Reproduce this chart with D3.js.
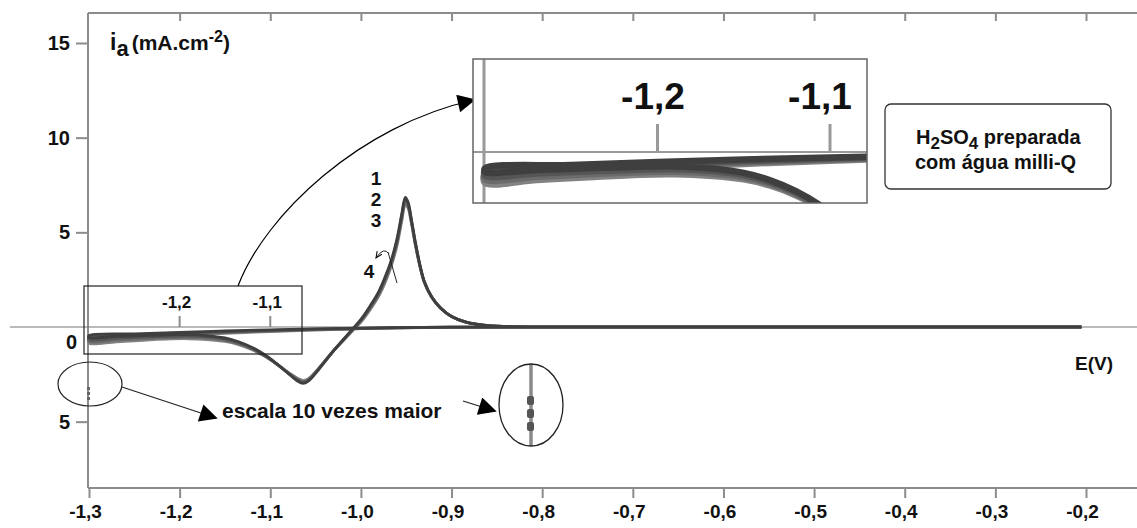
<!DOCTYPE html>
<html>
<head>
<meta charset="utf-8">
<script src="https://cdn.jsdelivr.net/npm/d3@7"></script>
<style>
  body { margin: 0; background: #fff; }
  svg { display: block; }
  text { font-family: "Liberation Sans", Arial, sans-serif; fill: #111; }
</style>
</head>
<body>
<svg id="chart" width="1137" height="528"></svg>
<script>
// Potential ticks (V) and their labels
const xTicks = [-1.3, -1.2, -1.1, -1.0, -0.9, -0.8, -0.7, -0.6, -0.5, -0.4, -0.3, -0.2];
const xTickLabels = ["-1,3", "-1,2", "-1,1", "-1,0", "-0,9", "-0,8", "-0,7", "-0,6", "-0,5", "-0,4", "-0,3", "-0,2"];
// Current density ticks (the negative side is drawn at 10x scale)
const yTicks = [15, 10, 5, -5];
const yTickLabels = ["15", "10", "5", "5"];
// Ticks shown in the magnified window
const zoomTicks = [-1.2, -1.1];
const zoomTickLabels = ["-1,2", "-1,1"];
const cycleNames = ["1", "2", "3", "4"];

// Voltammograms, [E (V), i (mA.cm-2)] : cathodic sweep -0.2 -> -1.3, then back to -0.2
const cycle1 = [
  [-0.205, 0], [-0.5, 0], [-0.8, 0], [-0.9, -0.01], [-0.96, -0.03], [-1.0, -0.06], [-1.05, -0.1],
  [-1.1, -0.15], [-1.15, -0.21], [-1.2, -0.28], [-1.25, -0.36], [-1.3, -0.45],
  [-1.3, -0.55], [-1.27, -0.5], [-1.24, -0.45], [-1.21, -0.41], [-1.19, -0.4], [-1.17, -0.45],
  [-1.15, -0.58], [-1.135, -0.78], [-1.12, -1.08], [-1.105, -1.5], [-1.09, -2.05], [-1.078, -2.55],
  [-1.07, -2.85], [-1.064, -2.98], [-1.058, -2.86], [-1.05, -2.45], [-1.04, -1.85], [-1.03, -1.25],
  [-1.02, -0.7], [-1.01, -0.15], [-1.0, 0.4], [-0.99, 1.1], [-0.98, 1.9], [-0.972, 2.8], [-0.966, 3.6],
  [-0.96, 4.7], [-0.955, 5.95], [-0.951, 6.85], [-0.948, 6.6], [-0.944, 5.6], [-0.94, 4.5],
  [-0.935, 3.3], [-0.93, 2.4], [-0.922, 1.6], [-0.912, 1.0], [-0.9, 0.55], [-0.885, 0.27],
  [-0.865, 0.1], [-0.84, 0.03], [-0.8, 0], [-0.5, 0], [-0.205, 0]
];
const cycle2 = [
  [-0.205, 0], [-0.5, 0], [-0.8, 0], [-0.9, -0.01], [-0.96, -0.04], [-1.0, -0.07], [-1.05, -0.12],
  [-1.1, -0.18], [-1.15, -0.25], [-1.2, -0.33], [-1.25, -0.42], [-1.3, -0.52],
  [-1.3, -0.66], [-1.27, -0.6], [-1.24, -0.54], [-1.21, -0.49], [-1.19, -0.48], [-1.17, -0.52],
  [-1.15, -0.64], [-1.135, -0.83], [-1.12, -1.12], [-1.105, -1.53], [-1.09, -2.06], [-1.078, -2.52],
  [-1.07, -2.8], [-1.064, -2.93], [-1.058, -2.82], [-1.05, -2.42], [-1.04, -1.83], [-1.03, -1.24],
  [-1.02, -0.7], [-1.01, -0.17], [-1.0, 0.36], [-0.99, 1.05], [-0.98, 1.84], [-0.972, 2.72], [-0.966, 3.52],
  [-0.96, 4.6], [-0.955, 5.85], [-0.951, 6.72], [-0.948, 6.5], [-0.944, 5.55], [-0.94, 4.45],
  [-0.935, 3.28], [-0.93, 2.38], [-0.922, 1.6], [-0.912, 1.0], [-0.9, 0.55], [-0.885, 0.27],
  [-0.865, 0.1], [-0.84, 0.03], [-0.8, 0], [-0.5, 0], [-0.205, 0]
];
const cycle3 = [
  [-0.205, 0], [-0.5, 0], [-0.8, 0], [-0.9, -0.01], [-0.96, -0.04], [-1.0, -0.08], [-1.05, -0.14],
  [-1.1, -0.21], [-1.15, -0.29], [-1.2, -0.38], [-1.25, -0.48], [-1.3, -0.58],
  [-1.3, -0.76], [-1.27, -0.69], [-1.24, -0.62], [-1.21, -0.56], [-1.19, -0.55], [-1.17, -0.59],
  [-1.15, -0.7], [-1.135, -0.88], [-1.12, -1.16], [-1.105, -1.56], [-1.09, -2.06], [-1.078, -2.5],
  [-1.07, -2.76], [-1.064, -2.88], [-1.058, -2.78], [-1.05, -2.39], [-1.04, -1.82], [-1.03, -1.24],
  [-1.02, -0.72], [-1.01, -0.2], [-1.0, 0.32], [-0.99, 0.98], [-0.98, 1.76], [-0.972, 2.62], [-0.966, 3.42],
  [-0.96, 4.48], [-0.955, 5.72], [-0.951, 6.6], [-0.948, 6.4], [-0.944, 5.48], [-0.94, 4.4],
  [-0.935, 3.25], [-0.93, 2.36], [-0.922, 1.58], [-0.912, 0.99], [-0.9, 0.55], [-0.885, 0.27],
  [-0.865, 0.1], [-0.84, 0.03], [-0.8, 0], [-0.5, 0], [-0.205, 0]
];
const cycle4 = [
  [-0.205, 0], [-0.5, 0], [-0.8, 0], [-0.9, -0.02], [-0.96, -0.05], [-1.0, -0.09], [-1.05, -0.16],
  [-1.1, -0.24], [-1.15, -0.33], [-1.2, -0.43], [-1.25, -0.53], [-1.3, -0.64],
  [-1.3, -0.86], [-1.27, -0.78], [-1.24, -0.7], [-1.21, -0.63], [-1.19, -0.62], [-1.17, -0.66],
  [-1.15, -0.76], [-1.135, -0.93], [-1.12, -1.2], [-1.105, -1.58], [-1.09, -2.06], [-1.078, -2.46],
  [-1.07, -2.7], [-1.064, -2.82], [-1.058, -2.73], [-1.05, -2.36], [-1.04, -1.8], [-1.03, -1.25],
  [-1.02, -0.75], [-1.01, -0.24], [-1.0, 0.26], [-0.99, 0.9], [-0.98, 1.66], [-0.972, 2.5], [-0.966, 3.3],
  [-0.96, 4.34], [-0.955, 5.58], [-0.951, 6.45], [-0.948, 6.28], [-0.944, 5.4], [-0.94, 4.34],
  [-0.935, 3.22], [-0.93, 2.34], [-0.922, 1.57], [-0.912, 0.98], [-0.9, 0.55], [-0.885, 0.27],
  [-0.865, 0.1], [-0.84, 0.03], [-0.8, 0], [-0.5, 0], [-0.205, 0]
];
const cycles = [cycle1, cycle2, cycle3, cycle4];
const cycleColors = ["#3f3f3f", "#555555", "#6b6b6b", "#828282"];

const svg = d3.select("#chart");
const axisGrey = "#8c8c8c";

// Plot frame
const frame = { left: 88, top: 13, right: 1137, bottom: 488 };

const x = d3.scaleLinear().domain([-1.3, -0.2]).range([89, 1086]);
const y = d3.scaleLinear().domain([0, 15]).range([327, 43]);

// Magnified window scales
const xi = d3.scaleLinear().domain([-1.3, -1.1]).range([485, 830]);
const yi = d3.scaleLinear().domain([0, -1]).range([152, 188]);

// Frame lines
svg.append("line").attr("x1", frame.left).attr("x2", frame.right).attr("y1", frame.top).attr("y2", frame.top)
  .attr("stroke", axisGrey).attr("stroke-width", 2);
svg.append("line").attr("x1", frame.left).attr("x2", frame.right).attr("y1", frame.bottom).attr("y2", frame.bottom)
  .attr("stroke", axisGrey).attr("stroke-width", 2);
svg.append("line").attr("x1", frame.left).attr("x2", frame.left).attr("y1", frame.top).attr("y2", frame.bottom)
  .attr("stroke", axisGrey).attr("stroke-width", 2);

// Bottom axis
const xAxis = svg.append("g").attr("transform", `translate(0,${frame.bottom})`)
  .call(d3.axisBottom(x).tickValues(xTicks).tickFormat((d, i) => xTickLabels[i]).tickSize(10).tickPadding(7));
xAxis.select(".domain").remove();
xAxis.selectAll(".tick line").attr("stroke", axisGrey).attr("stroke-width", 2);
xAxis.selectAll(".tick text").attr("font-size", 19).attr("font-weight", "bold").attr("fill", "#111")
  .attr("dx", -4).attr("font-family", "Liberation Sans, Arial, sans-serif");

// Top axis (inward ticks, no labels)
const topAxis = svg.append("g").attr("transform", `translate(0,${frame.top})`)
  .call(d3.axisBottom(x).tickValues(xTicks.slice(1)).tickFormat("").tickSize(8));
topAxis.select(".domain").remove();
topAxis.selectAll(".tick line").attr("stroke", axisGrey).attr("stroke-width", 2);

// Left axis
const yAxis = svg.append("g").attr("transform", `translate(${frame.left},0)`)
  .call(d3.axisLeft(y).tickValues(yTicks).tickFormat((d, i) => yTickLabels[i]).tickSize(12).tickPadding(6));
yAxis.select(".domain").remove();
yAxis.selectAll(".tick line").attr("stroke", axisGrey).attr("stroke-width", 2);
yAxis.selectAll(".tick text").attr("font-size", 20).attr("font-weight", "bold").attr("fill", "#111")
  .attr("font-family", "Liberation Sans, Arial, sans-serif");
// zero label sits just under the zero line
svg.append("text").attr("x", 77).attr("y", y(0) + 22).attr("text-anchor", "end")
  .attr("font-size", 20).attr("font-weight", "bold").text("0");

// Zero line across the whole width
svg.append("line").attr("x1", 10).attr("x2", frame.right).attr("y1", y(0)).attr("y2", y(0))
  .attr("stroke", "#777").attr("stroke-width", 1.2);

// Y axis title
const yTitle = svg.append("text").attr("x", 110).attr("y", 50).attr("font-weight", "bold").attr("font-size", 23);
yTitle.append("tspan").text("i");
yTitle.append("tspan").attr("baseline-shift", "-6").attr("font-size", 22).text("a");
yTitle.append("tspan").attr("dx", 3).attr("font-size", 21).text("(mA.cm");
yTitle.append("tspan").attr("baseline-shift", "8").attr("font-size", 16).text("-2");
yTitle.append("tspan").attr("font-size", 21).text(")");

// X axis title
svg.append("text").attr("x", 1075).attr("y", 370).attr("font-size", 19).attr("font-weight", "bold").text("E(V)");

// Curves
const line = d3.line().x(d => x(d[0])).y(d => y(d[1])).curve(d3.curveCatmullRom.alpha(0.5));
const order = [3, 2, 1, 0];
svg.append("g").selectAll("path").data(order).join("path")
  .attr("d", k => line(cycles[k]))
  .attr("fill", "none").attr("stroke", k => cycleColors[k]).attr("stroke-width", 2.8)
  .attr("stroke-linejoin", "round");

// Cycle labels near the peak
const labelBase = [185, 206, 227, 278];
const labelX = [376, 376, 376, 369];
svg.append("g").selectAll("text").data(cycleNames).join("text")
  .attr("x", (d, i) => labelX[i]).attr("y", (d, i) => labelBase[i]).attr("text-anchor", "middle")
  .attr("font-size", 19).attr("font-weight", "bold").text(d => d);

// Markers
const defs = svg.append("defs");
defs.append("marker").attr("id", "bigHead").attr("viewBox", "0 0 10 10").attr("refX", 9).attr("refY", 5)
  .attr("markerWidth", 22).attr("markerHeight", 18).attr("markerUnits", "userSpaceOnUse").attr("orient", "auto")
  .append("path").attr("d", "M0,0 L10,5 L0,10 Z").attr("fill", "#000");
defs.append("marker").attr("id", "smallHead").attr("viewBox", "0 0 10 10").attr("refX", 9).attr("refY", 5)
  .attr("markerWidth", 7).attr("markerHeight", 7).attr("markerUnits", "userSpaceOnUse").attr("orient", "auto")
  .append("path").attr("d", "M0,1 L9,5 L0,9").attr("fill", "none").attr("stroke", "#000").attr("stroke-width", 1.5);

// Cycle-4 pointer across the rising flank
svg.append("line").attr("x1", 388).attr("y1", 252).attr("x2", 397).attr("y2", 283)
  .attr("stroke", "#222").attr("stroke-width", 1);
svg.append("path").attr("d", "M389,254 Q384,246 376,258").attr("fill", "none")
  .attr("stroke", "#222").attr("stroke-width", 1).attr("marker-end", "url(#smallHead)");

// Region that is magnified
svg.append("rect").attr("x", 84).attr("y", 286).attr("width", 218).attr("height", 68)
  .attr("fill", "none").attr("stroke", "#222").attr("stroke-width", 1.2);
zoomTicks.forEach((t, i) => {
  svg.append("line").attr("x1", x(t)).attr("x2", x(t)).attr("y1", 316).attr("y2", y(0))
    .attr("stroke", axisGrey).attr("stroke-width", 2);
  svg.append("text").attr("x", x(t) - 3).attr("y", 308).attr("text-anchor", "middle")
    .attr("font-size", 17).attr("font-weight", "bold").text(zoomTickLabels[i]);
});

// Curved connector to the magnified window
svg.append("path").attr("d", "M238,286 C265,215 360,125 474,100").attr("fill", "none")
  .attr("stroke", "#000").attr("stroke-width", 1.2).attr("marker-end", "url(#bigHead)");

// Magnified window
const win = { x: 473, y: 59, w: 394, h: 144 };
defs.append("clipPath").attr("id", "winClip").append("rect")
  .attr("x", win.x).attr("y", win.y).attr("width", win.w).attr("height", win.h);
const zoomG = svg.append("g").attr("clip-path", "url(#winClip)");
zoomG.append("rect").attr("x", win.x).attr("y", win.y).attr("width", win.w).attr("height", win.h).attr("fill", "#fff");
zoomG.append("line").attr("x1", win.x).attr("x2", win.x + win.w).attr("y1", yi(0)).attr("y2", yi(0))
  .attr("stroke", "#999").attr("stroke-width", 2);
zoomG.append("line").attr("x1", 484).attr("x2", 484).attr("y1", win.y).attr("y2", win.y + win.h)
  .attr("stroke", "#999").attr("stroke-width", 3);
zoomTicks.forEach(t => {
  zoomG.append("line").attr("x1", xi(t)).attr("x2", xi(t)).attr("y1", 124).attr("y2", yi(0) - 1)
    .attr("stroke", "#999").attr("stroke-width", 3);
});
const lineZ = d3.line().x(d => xi(d[0])).y(d => yi(d[1])).curve(d3.curveCatmullRom.alpha(0.5));
zoomG.append("g").selectAll("path").data(order).join("path")
  .attr("d", k => lineZ(cycles[k]))
  .attr("fill", "none").attr("stroke", k => cycleColors[k]).attr("stroke-width", 6.5)
  .attr("stroke-linejoin", "round");
svg.append("rect").attr("x", win.x).attr("y", win.y).attr("width", win.w).attr("height", win.h)
  .attr("fill", "none").attr("stroke", "#666").attr("stroke-width", 1.5);
const zl = [653, 820];
zoomTickLabels.forEach((lab, i) => {
  svg.append("text").attr("x", zl[i]).attr("y", 109).attr("text-anchor", "middle")
    .attr("font-size", 37).attr("font-weight", "bold").text(lab);
});

// Note box
svg.append("rect").attr("x", 885).attr("y", 104).attr("width", 226).attr("height", 85).attr("rx", 6)
  .attr("fill", "#fff").attr("stroke", "#333").attr("stroke-width", 1.3);
const note1 = svg.append("text").attr("x", 916).attr("y", 144).attr("font-size", 20).attr("font-weight", "bold");
note1.append("tspan").text("H");
note1.append("tspan").attr("baseline-shift", "-5").attr("font-size", 17).text("2");
note1.append("tspan").text("SO");
note1.append("tspan").attr("baseline-shift", "-5").attr("font-size", 17).text("4");
note1.append("tspan").text(" preparada");
svg.append("text").attr("x", 915).attr("y", 169).attr("font-size", 20).attr("font-weight", "bold")
  .text("com água milli-Q");

// Scale note with ellipses
svg.append("ellipse").attr("cx", 90).attr("cy", 384).attr("rx", 32).attr("ry", 22)
  .attr("fill", "none").attr("stroke", "#222").attr("stroke-width", 1.2);
[387, 392, 397].forEach(v => {
  svg.append("rect").attr("x", 87).attr("y", v).attr("width", 3).attr("height", 3).attr("fill", "#666");
});
svg.append("line").attr("x1", 122).attr("y1", 387).attr("x2", 216).attr("y2", 418)
  .attr("stroke", "#222").attr("stroke-width", 1.2).attr("marker-end", "url(#bigHead)");
svg.append("text").attr("x", 222).attr("y", 418).attr("font-size", 21).attr("font-weight", "bold")
  .text("escala 10 vezes maior");
svg.append("line").attr("x1", 463).attr("y1", 401).attr("x2", 495).attr("y2", 411)
  .attr("stroke", "#222").attr("stroke-width", 1.2).attr("marker-end", "url(#bigHead)");
defs.append("clipPath").attr("id", "ellClip").append("ellipse")
  .attr("cx", 531).attr("cy", 405).attr("rx", 32).attr("ry", 41);
const ell = svg.append("g").attr("clip-path", "url(#ellClip)");
ell.append("line").attr("x1", 531).attr("x2", 531).attr("y1", 360).attr("y2", 450)
  .attr("stroke", "#8a8a8a").attr("stroke-width", 3.5);
[396, 409, 422].forEach(v => {
  ell.append("rect").attr("x", 527).attr("y", v).attr("width", 7).attr("height", 9).attr("rx", 2).attr("fill", "#555");
});
svg.append("ellipse").attr("cx", 531).attr("cy", 405).attr("rx", 32).attr("ry", 41)
  .attr("fill", "none").attr("stroke", "#222").attr("stroke-width", 1.3);
</script>
</body>
</html>
